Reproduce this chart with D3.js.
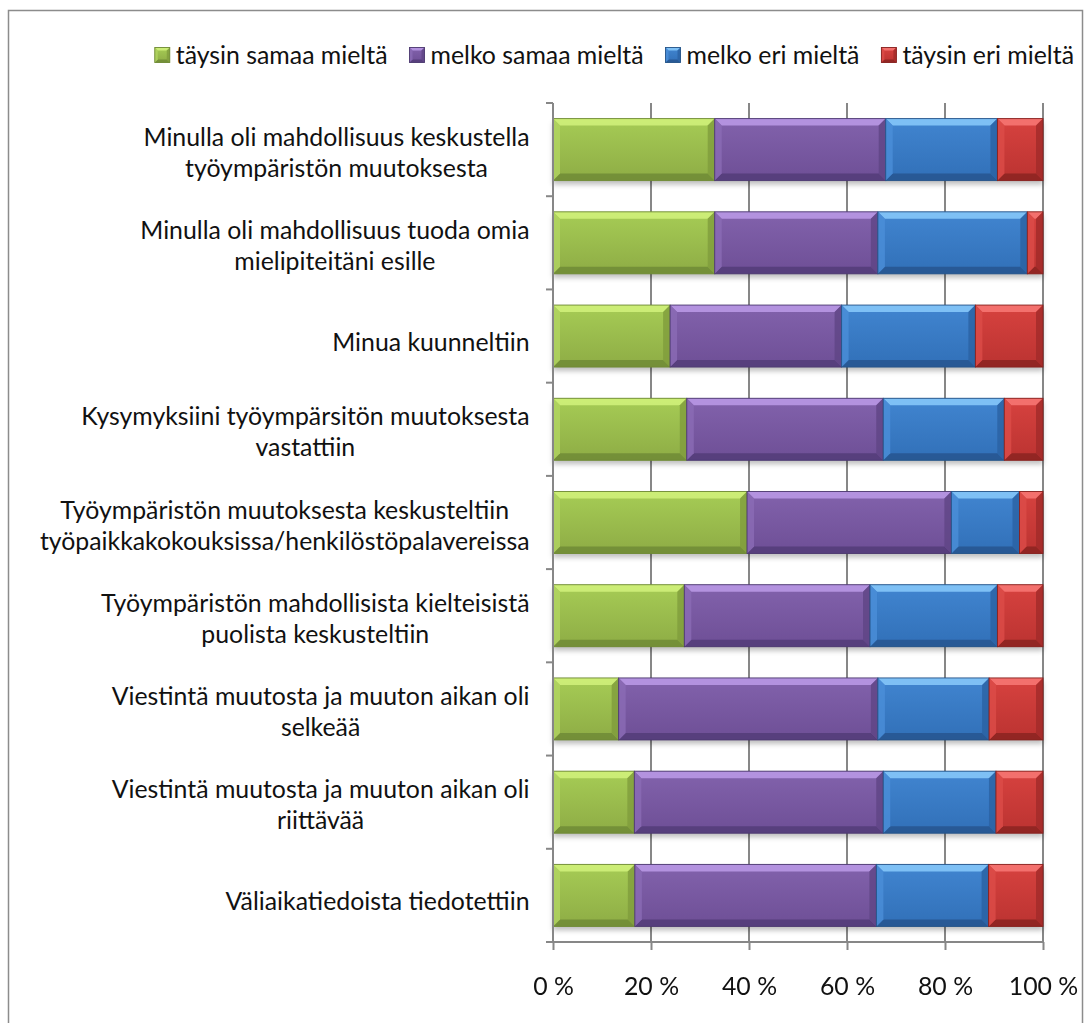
<!DOCTYPE html>
<html><head><meta charset="utf-8">
<script src="https://cdn.jsdelivr.net/npm/d3@7"></script>
<style>
html,body{margin:0;padding:0;background:#fff;}
svg{display:block;}
text{font-family:Lato,"Open Sans",sans-serif;fill:#111;}
</style></head>
<body>
<svg id="chart" width="1092" height="1023"></svg>
<script>
// ---- data ----
const categories = [
  "Minulla oli mahdollisuus keskustella\ntyöympäristön muutoksesta",
  "Minulla oli mahdollisuus tuoda omia\nmielipiteitäni esille",
  "Minua kuunneltiin",
  "Kysymyksiini työympärsitön muutoksesta\nvastattiin",
  "Työympäristön muutoksesta keskusteltiin\ntyöpaikkakokouksissa/henkilöstöpalavereissa",
  "Työympäristön mahdollisista kielteisistä\npuolista keskusteltiin",
  "Viestintä muutosta ja muuton aikan oli\nselkeää",
  "Viestintä muutosta ja muuton aikan oli\nriittävää",
  "Väliaikatiedoista tiedotettiin"
];
const seriesNames = ["täysin samaa mieltä", "melko samaa mieltä", "melko eri mieltä", "täysin eri mieltä"];
const taysinSamaa = [33.0, 33.0, 23.9, 27.3, 39.6, 26.8, 13.4, 16.6, 16.7];
const melkoSamaa  = [34.9, 33.3, 35.0, 40.1, 41.7, 37.9, 52.9, 50.8, 49.3];
const melkoEri    = [22.8, 30.5, 27.3, 24.7, 13.9, 26.0, 22.7, 23.0, 22.9];
const taysinEri   = [ 9.3,  3.2, 13.8,  7.9,  4.8,  9.3, 11.0,  9.6, 11.1];
const tickValues = [0, 20, 40, 60, 80, 100];
const tickLabels = ["0 %", "20 %", "40 %", "60 %", "80 %", "100 %"];

// ---- styles ----
const palette = [
  {base0:"#a6cc55", base1:"#8eac45", top:"#cdee78", bottom:"#6b8634", left:"#b2d461", right:"#7f9c3c", stroke:"#6f8a36"},
  {base0:"#8262ac", base1:"#6e4f96", top:"#b595e2", bottom:"#4f3a74", left:"#8b6bb5", right:"#5f4585", stroke:"#4d3a70"},
  {base0:"#4185d0", base1:"#3170b8", top:"#82c3f7", bottom:"#25518a", left:"#4b8fd8", right:"#2b62a3", stroke:"#265488"},
  {base0:"#d7423f", base1:"#bb3331", top:"#f47370", bottom:"#84211f", left:"#dc4c49", right:"#a12b29", stroke:"#86221f"}
];

const svg = d3.select("#chart");
const defs = svg.append("defs");
palette.forEach((p,i)=>{
  const g = defs.append("linearGradient").attr("id","g"+i).attr("x1",0).attr("y1",0).attr("x2",0).attr("y2",1);
  g.append("stop").attr("offset","0%").attr("stop-color",p.base0);
  g.append("stop").attr("offset","100%").attr("stop-color",p.base1);
});
const f = defs.append("filter").attr("id","shadow").attr("x","-5%").attr("y","-20%").attr("width","110%").attr("height","160%");
f.append("feGaussianBlur").attr("stdDeviation",2.5);

// frame
svg.append("rect").attr("x",8.5).attr("y",10.5).attr("width",1074).attr("height",1030)
  .attr("fill","none").attr("stroke","#8c8c8c").attr("stroke-width",1.5);

// scales
const x = d3.scaleLinear().domain([0,100]).range([553,1043]);
const y = d3.scaleBand().domain(categories).range([103,942]).paddingInner(0.335).paddingOuter(0.1675);

const rows = categories.map((c,i)=>({cat:c, s0:taysinSamaa[i], s1:melkoSamaa[i], s2:melkoEri[i], s3:taysinEri[i]}));
const stack = d3.stack().keys(["s0","s1","s2","s3"]);
const series = stack(rows);

const gridColor = "#878787";
svg.append("g").selectAll("line").data(tickValues.slice(1)).join("line")
  .attr("x1",d=>x(d)).attr("x2",d=>x(d)).attr("y1",103).attr("y2",942)
  .attr("stroke",gridColor).attr("stroke-width",2);

const shadowG = svg.append("g").attr("filter","url(#shadow)");
shadowG.selectAll("rect").data(rows).join("rect")
  .attr("x",x(0)).attr("width",x(100)-x(0))
  .attr("y",d=>y(d.cat)+4).attr("height",y.bandwidth())
  .attr("fill","#000").attr("opacity",0.25);

function bevel(g, x0, x1, y0, y1, p, i, b0){
  const w = x1-x0, h = y1-y0;
  const b = Math.min(b0, w/2, h/2);
  g.append("rect").attr("x",x0).attr("y",y0).attr("width",w).attr("height",h).attr("fill","url(#g"+i+")");
  const poly = (pts, c, op) => g.append("polygon").attr("points", pts.map(q=>q.join(",")).join(" ")).attr("fill",c).attr("opacity",op);
  poly([[x0,y0],[x1,y0],[x1-b,y0+b],[x0+b,y0+b]], p.top, 0.95);
  poly([[x0,y1],[x1,y1],[x1-b,y1-b],[x0+b,y1-b]], p.bottom, 0.75);
  poly([[x0,y0],[x0+b,y0+b],[x0+b,y1-b],[x0,y1]], p.left, 0.8);
  poly([[x1,y0],[x1-b,y0+b],[x1-b,y1-b],[x1,y1]], p.right, 0.8);
  g.append("rect").attr("x",x0).attr("y",y0).attr("width",w).attr("height",h)
    .attr("fill","none").attr("stroke",p.stroke).attr("stroke-width",0.9);
}

const barsG = svg.append("g");
series.forEach((s,i)=>{
  s.forEach(d=>{
    const x0 = x(d[0]), x1 = x(d[1]);
    const y0 = y(d.data.cat), y1 = y0 + y.bandwidth();
    bevel(barsG, x0, x1, y0, y1, palette[i], i, 7);
  });
});

// left axis
const step = y.step();
const edges = d3.range(categories.length+1).map(k=>y(categories[0]) - step*y.paddingInner()/2 + k*step);
const axG = svg.append("g");
axG.append("line").attr("x1",553).attr("x2",553).attr("y1",edges[0]).attr("y2",942).attr("stroke",gridColor).attr("stroke-width",2);
axG.selectAll("line.t").data(edges).join("line").attr("class","t")
  .attr("x1",546).attr("x2",553).attr("y1",d=>d).attr("y2",d=>d).attr("stroke",gridColor).attr("stroke-width",2);

// bottom axis
const xAxis = d3.axisBottom(x).tickValues(tickValues).tickSize(8).tickSizeOuter(0)
  .tickFormat((d,i)=>tickLabels[i]);
const bx = svg.append("g").attr("transform","translate(0,942)").call(xAxis);
bx.select(".domain").attr("stroke",gridColor).attr("stroke-width",2).attr("d","M546,0H"+x(100));
bx.selectAll(".tick line").attr("stroke",gridColor).attr("stroke-width",2);
bx.selectAll(".tick text").attr("y",44).attr("dy","0.35em").attr("fill","#111")
  .style("font-family","Lato");

// category labels
const probe = svg.append("text").attr("font-size",100).text("työpaikkakokouksissa/henkilöstöpalavereissa");
const labelSize = 100 * 490 / probe.node().getComputedTextLength();
probe.remove();
const lineH = 31;
const labG = svg.append("g");
categories.forEach(c=>{
  const lines = c.split("\n");
  const t = labG.append("text").attr("font-size",labelSize).attr("text-anchor","middle");
  const cy = y(c) + y.bandwidth()/2 + (lines.length > 1 ? 3 : 6);
  lines.forEach((ln,k)=>{
    t.append("tspan").attr("x",0).attr("y", cy + (k - (lines.length-1)/2)*lineH).attr("dy","0.35em").text(ln);
  });
  const w = d3.max(t.selectAll("tspan").nodes(), n=>n.getComputedTextLength());
  const cx = 529.5 - w/2;
  t.selectAll("tspan").attr("x",cx);
});
bx.selectAll(".tick text").style("font-size", labelSize+"px");

// legend
const legG = svg.append("g");
const probe2 = svg.append("text").attr("font-size",100).text("melko eri mieltä");
const legSize = 100 * 173 / probe2.node().getComputedTextLength();
probe2.remove();
const sq = 15, gapText = 6, gapItem = 22;
let widths = seriesNames.map(n=>{
  const t = svg.append("text").attr("font-size",legSize).text(n);
  const w = t.node().getComputedTextLength(); t.remove(); return w;
});
const total = d3.sum(widths) + seriesNames.length*(sq+gapText) + (seriesNames.length-1)*gapItem;
let cur = 1074 - total;
const ly = 55;
seriesNames.forEach((n,i)=>{
  bevel(legG, cur, cur+sq, ly-sq/2, ly+sq/2, palette[i], i, 3);
  legG.append("text").attr("x",cur+sq+gapText).attr("y",ly).attr("dy","0.35em").attr("font-size",legSize).text(n);
  cur += sq + gapText + widths[i] + gapItem;
});
</script>
</body></html>
